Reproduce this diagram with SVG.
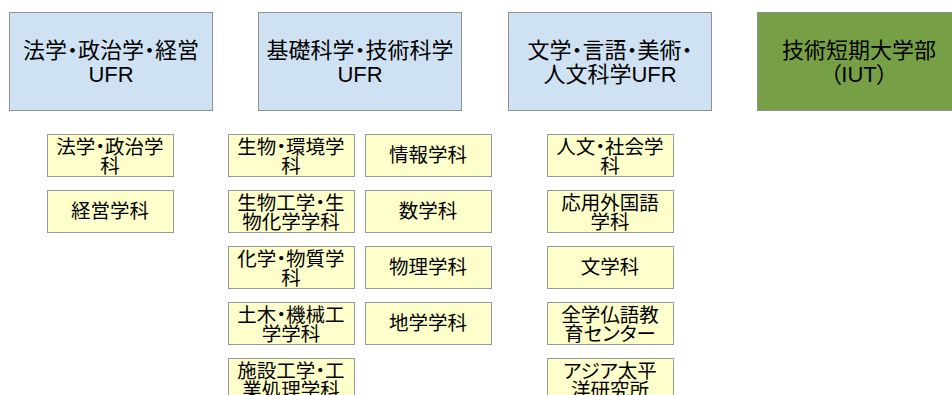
<svg xmlns="http://www.w3.org/2000/svg" width="952" height="395" viewBox="0 0 952 395">
<style>
text{font-family:"Liberation Sans","Noto Sans CJK JP",sans-serif;font-feature-settings:"palt";text-anchor:middle;fill:#000}
.ufr rect{fill:#cfe2f3;stroke:#8f8f8f;stroke-width:1}
.iut rect{fill:#77a046;stroke:#8f8f8f;stroke-width:1}
.top text{font-size:22px}
.dep rect{fill:#ffffcc;stroke:#999;stroke-width:1}
.dep text{font-size:19.5px}
</style>
<rect width="952" height="395" fill="#fff"/>
<g id="ufr1" class="ufr top"><rect x="9.5" y="12.5" width="203" height="98"/><text x="111" y="58">法学・政治学・経営</text><text x="111" y="82">UFR</text></g>
<g id="ufr2" class="ufr top"><rect x="258.5" y="12.5" width="203" height="98"/><text x="360" y="58">基礎科学・技術科学</text><text x="360" y="82">UFR</text></g>
<g id="ufr3" class="ufr top"><rect x="508.5" y="12.5" width="203" height="98"/><text x="610" y="58">文学・言語・美術・</text><text x="610" y="82">人文科学UFR</text></g>
<g id="iut" class="iut top"><rect x="757.5" y="12.5" width="203" height="98"/><text x="859" y="58">技術短期大学部</text><text x="859" y="82">（IUT）</text></g>
<g id="connectors"></g>
<g id="d1" class="dep"><rect x="47.5" y="134.5" width="126" height="42"/><text x="110" y="154">法学・政治学</text><text x="110" y="173">科</text></g>
<g id="d2" class="dep"><rect x="47.5" y="190.5" width="126" height="42"/><text x="110" y="218">経営学科</text></g>
<g id="d3" class="dep"><rect x="228.5" y="134.5" width="126" height="42"/><text x="291" y="154">生物・環境学</text><text x="291" y="173">科</text></g>
<g id="d4" class="dep"><rect x="228.5" y="190.5" width="126" height="42"/><text x="291" y="210">生物工学・生</text><text x="291" y="229">物化学学科</text></g>
<g id="d5" class="dep"><rect x="228.5" y="246.5" width="126" height="42"/><text x="291" y="266">化学・物質学</text><text x="291" y="285">科</text></g>
<g id="d6" class="dep"><rect x="228.5" y="302.5" width="126" height="42"/><text x="291" y="322">土木・機械工</text><text x="291" y="341">学学科</text></g>
<g id="d7" class="dep"><rect x="228.5" y="358.5" width="126" height="42"/><text x="291" y="378">施設工学・工</text><text x="291" y="397">業処理学科</text></g>
<g id="d8" class="dep"><rect x="365.5" y="134.5" width="126" height="42"/><text x="428" y="162">情報学科</text></g>
<g id="d9" class="dep"><rect x="365.5" y="190.5" width="126" height="42"/><text x="428" y="218">数学科</text></g>
<g id="d10" class="dep"><rect x="365.5" y="246.5" width="126" height="42"/><text x="428" y="274">物理学科</text></g>
<g id="d11" class="dep"><rect x="365.5" y="302.5" width="126" height="42"/><text x="428" y="330">地学学科</text></g>
<g id="d12" class="dep"><rect x="547.5" y="134.5" width="126" height="42"/><text x="610" y="154">人文・社会学</text><text x="610" y="173">科</text></g>
<g id="d13" class="dep"><rect x="547.5" y="190.5" width="126" height="42"/><text x="610" y="210">応用外国語</text><text x="610" y="229">学科</text></g>
<g id="d14" class="dep"><rect x="547.5" y="246.5" width="126" height="42"/><text x="610" y="274">文学科</text></g>
<g id="d15" class="dep"><rect x="547.5" y="302.5" width="126" height="42"/><text x="610" y="322">全学仏語教</text><text x="610" y="341">育センター</text></g>
<g id="d16" class="dep"><rect x="547.5" y="358.5" width="126" height="42"/><text x="610" y="378">アジア太平</text><text x="610" y="397">洋研究所</text></g>
</svg>
